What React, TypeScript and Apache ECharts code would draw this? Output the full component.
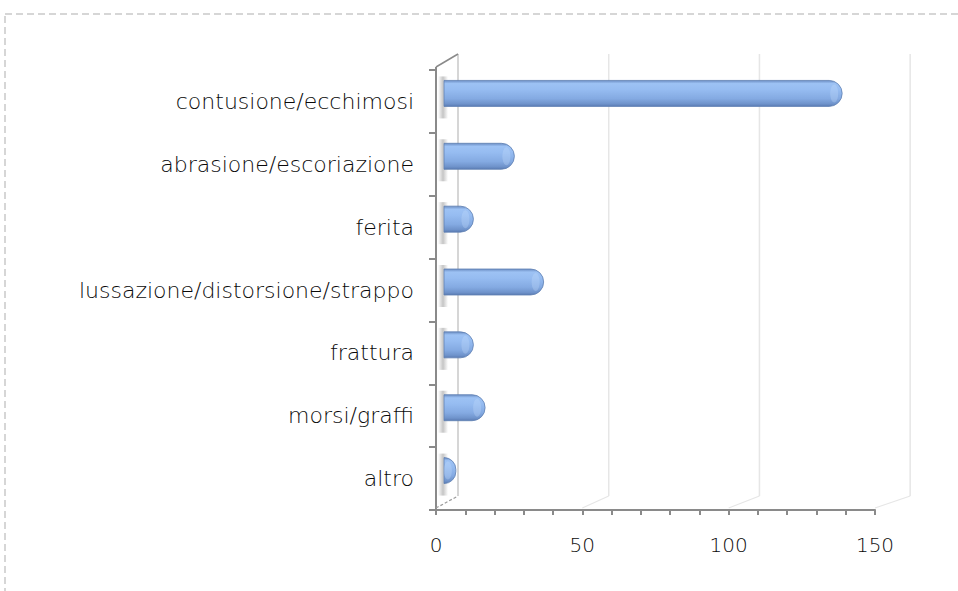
import React, { useEffect, useRef } from "react";
import * as echarts from "echarts";

const categories = [
  "contusione/ecchimosi",
  "abrasione/escoriazione",
  "ferita",
  "lussazione/distorsione/strappo",
  "frattura",
  "morsi/graffi",
  "altro",
];
const values = [134, 22, 8, 32, 8, 12, 2];
const xTicks = [0, 50, 100, 150];

export default function App() {
  const ref = useRef<HTMLDivElement>(null);
  useEffect(() => {
    document.body.style.margin = "0";
    const chart = echarts.init(ref.current!, null, { renderer: "svg" });
    const FONT = "'DejaVu Sans', sans-serif";
    const BAR_DX = 8, BAR_DY = -8, BAR_H = 26, CAP = 6;
    const WALL_DX = 22, WALL_DY = -14, BACK_SCALE = 1.03;
    const AXIS_COLOR = "#8a8a8a";

    chart.setOption({
      animation: false,
      backgroundColor: "#ffffff",
      graphic: [
        {
          type: "rect",
          silent: true,
          shape: { x: 5, y: 14, width: 1200, height: 900 },
          style: { fill: "none", stroke: "#d6d6d6", lineWidth: 2, lineDash: [7, 4] },
        },
      ],
      grid: { left: 436, right: 83, top: 70, bottom: 81 },
      xAxis: {
        type: "value",
        min: 0,
        max: 150,
        interval: 50,
        axisLine: { show: true, lineStyle: { color: AXIS_COLOR, width: 2 } },
        axisTick: { show: true, length: 5, lineStyle: { color: AXIS_COLOR, width: 2 } },
        minorTick: { show: true, splitNumber: 5, length: 5, lineStyle: { color: AXIS_COLOR, width: 2 } },
        splitLine: { show: false },
        axisLabel: { margin: 25, fontSize: 20, fontFamily: FONT, fontWeight: 200, color: "#0a0a0a" },
      },
      yAxis: {
        type: "category",
        data: categories,
        inverse: true,
        axisLine: { show: true, lineStyle: { color: AXIS_COLOR, width: 2 } },
        axisTick: { show: true, length: 7, lineStyle: { color: AXIS_COLOR, width: 2 } },
        axisLabel: { margin: 22, fontSize: 22, fontFamily: FONT, fontWeight: 200, color: "#0a0a0a" },
      },
      series: [
        {
          type: "custom",
          silent: true,
          clip: false,
          z: 1,
          data: xTicks.map((t) => [t, 0]),
          encode: { x: 0, y: 1 },
          renderItem: (params: any, api: any) => {
            const v = api.value(0);
            const cs = params.coordSys;
            const x0 = cs.x;
            const px = api.coord([v, 0])[0];
            const bx = x0 + WALL_DX + (px - x0) * BACK_SCALE;
            const top = cs.y;
            const bot = cs.y + cs.height;
            const children: any[] = [
              {
                type: "line",
                shape: { x1: bx, y1: top + WALL_DY - 2, x2: bx, y2: bot + WALL_DY },
                style: { stroke: v === 0 ? "#c8c8c8" : "#e6e6e6", lineWidth: 1.5 },
              },
              {
                type: "line",
                shape: { x1: px, y1: bot - 2, x2: bx, y2: bot + WALL_DY },
                style: {
                  stroke: v === 0 ? "#9a9a9a" : "#e6e6e6",
                  lineWidth: 1.2,
                  lineDash: v === 0 ? [3, 2] : null,
                },
              },
            ];
            if (v === 0) {
              children.push({
                type: "line",
                shape: { x1: px, y1: top - 3, x2: bx, y2: top + WALL_DY - 2 },
                style: { stroke: AXIS_COLOR, lineWidth: 1.5 },
              });
              children.push({
                type: "line",
                shape: { x1: px, y1: top - 3, x2: px, y2: top },
                style: { stroke: AXIS_COLOR, lineWidth: 2 },
              });
            }
            return { type: "group", children };
          },
        },
        {
          type: "custom",
          clip: false,
          z: 2,
          data: values.map((v, i) => [v, i]),
          encode: { x: 0, y: 1 },
          renderItem: (params: any, api: any) => {
            const v = api.value(0);
            const idx = api.value(1);
            const p0 = api.coord([0, idx]);
            const p1 = api.coord([v, idx]);
            const cy = p0[1] + BAR_DY;
            const xs = p0[0] + BAR_DX;
            const xe = p1[0] + BAR_DX + CAP;
            const y = cy - BAR_H / 2;
            return {
              type: "group",
              children: [
                {
                  type: "rect",
                  shape: { x: p0[0] + 2, y: y - 4, width: 10, height: BAR_H + 16 },
                  style: {
                    fill: new echarts.graphic.LinearGradient(0, 0, 1, 0, [
                      { offset: 0, color: "rgba(90,90,90,0)" },
                      { offset: 0.5, color: "rgba(90,90,90,0.35)" },
                      { offset: 1, color: "rgba(90,90,90,0)" },
                    ]),
                  },
                },
                {
                  type: "rect",
                  shape: { x: xs, y, width: Math.max(xe - xs, 1), height: BAR_H, r: [0, BAR_H / 2, BAR_H / 2, 0] },
                  style: {
                    fill: new echarts.graphic.LinearGradient(0, 0, 0, 1, [
                      { offset: 0, color: "#6b8dc3" },
                      { offset: 0.12, color: "#9dc2f4" },
                      { offset: 0.35, color: "#96bcf1" },
                      { offset: 0.7, color: "#84aae2" },
                      { offset: 0.9, color: "#6f93cb" },
                      { offset: 1, color: "#5a7bb2" },
                    ]),
                    stroke: "#5f80b3",
                    lineWidth: 0.8,
                  },
                },
                {
                  type: "ellipse",
                  shape: { cx: xe - 8, cy: cy, rx: 4, ry: BAR_H / 2 - 4 },
                  style: { fill: "rgba(200,222,252,0.3)" },
                },
              ],
            };
          },
        },
      ],
    });
    return () => chart.dispose();
  }, []);
  return (
    <div
      ref={ref}
      style={{ position: "fixed", left: 0, top: 0, width: 958, height: 591 }}
    />
  );
}
